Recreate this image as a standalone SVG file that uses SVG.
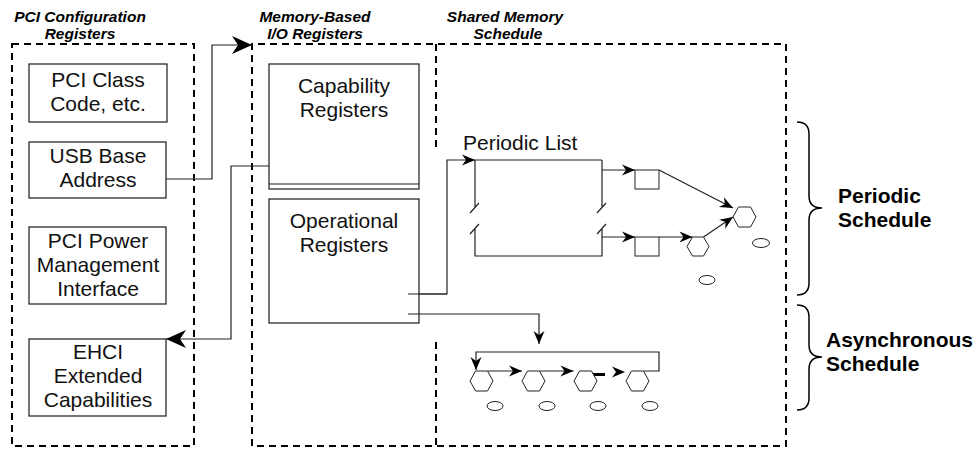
<svg xmlns="http://www.w3.org/2000/svg" width="976" height="449" viewBox="0 0 976 449">
<style>
.dash{fill:none;stroke:#000;stroke-width:2;stroke-dasharray:7 5}
.box{fill:#fff;stroke:#1a1a1a;stroke-width:1.2}
.ln{fill:none;stroke:#222;stroke-width:1.2}
.sh{fill:#fff;stroke:#222;stroke-width:1}
.t{font-family:"Liberation Sans",Arial,sans-serif;font-size:21px;fill:#111;text-anchor:middle}
.ti{font-family:"Liberation Sans",Arial,sans-serif;font-size:15.5px;font-weight:bold;font-style:italic;fill:#000;text-anchor:middle}
.tb{font-family:"Liberation Sans",Arial,sans-serif;font-size:21px;font-weight:bold;fill:#000}
.br{fill:none;stroke:#000;stroke-width:1.5}
.ah{fill:#000}
</style>
<defs>
<marker id="big" viewBox="-21 -10 22 20" markerWidth="22" markerHeight="20" refX="0" refY="0" markerUnits="userSpaceOnUse" orient="auto">
<path d="M0,0 L-20,-9 L-14,0 L-20,9 Z" fill="#000"/>
</marker>
<marker id="sm" viewBox="-14 -7 15 14" markerWidth="15" markerHeight="14" refX="0" refY="0" markerUnits="userSpaceOnUse" orient="auto">
<path d="M0,0 L-13,-5.5 L-9,0 L-13,5.5 Z" fill="#000"/>
</marker>
</defs>

<g id="regions">
<rect class="dash" x="12" y="44" width="182" height="402"/>
<path class="dash" d="M252,446 L252,44 L786,44 L786,446 L252,446"/>
<path class="dash" d="M436,44 L436,147"/>
<path class="dash" d="M436,342 L436,446"/>
<text class="ti" x="80" y="22">PCI Configuration</text>
<text class="ti" x="80" y="39">Registers</text>
<text class="ti" x="315" y="22">Memory-Based</text>
<text class="ti" x="315" y="39">I/O Registers</text>
<text class="ti" x="505" y="22">Shared Memory</text>
<text class="ti" x="508" y="39">Schedule</text>
</g>

<g id="connectors">
<path class="ln" d="M166,179 L212,179 L212,45 L252,45" marker-end="url(#big)"/>
<path class="ln" d="M269,166 L231,166 L231,339 L166,339" marker-end="url(#big)"/>
<path class="ln" d="M408,294 L447,294 L447,160 L475,160" marker-end="url(#sm)"/>
<path class="ln" d="M408,314 L539,314 L539,344" marker-end="url(#sm)"/>
<path class="ln" d="M602,170 L635,170" marker-end="url(#sm)"/>
<path class="ln" d="M602,237 L635,237" marker-end="url(#sm)"/>
<path class="ln" d="M659,170 L733,208" marker-end="url(#sm)"/>
<path class="ln" d="M659,237 L692.5,237" marker-end="url(#sm)"/>
<path class="ln" d="M703.5,237 L733,217" marker-end="url(#sm)"/>
<path class="ln" d="M487.5,371 L522,371" marker-end="url(#sm)"/>
<path class="ln" d="M539.5,371 L573.5,371" marker-end="url(#sm)"/>
<path d="M591,374.5 L605,374.5" stroke="#000" stroke-width="3"/>
<path class="ah" d="M625,372 L612,366.5 L616,372 L612,377.5 Z"/>
<path class="ln" d="M643.5,371 L659,371 L659,352 L476,352 L476,370" marker-end="url(#sm)"/>
</g>

<g id="pci-class">
<rect class="box" x="29" y="64" width="138" height="58"/>
<text class="t" x="98" y="87">PCI Class</text>
<text class="t" x="98" y="111">Code, etc.</text>
</g>
<g id="usb-base">
<rect class="box" x="29" y="142" width="137" height="56"/>
<text class="t" x="98" y="163">USB Base</text>
<text class="t" x="98" y="187">Address</text>
</g>
<g id="pci-power">
<rect class="box" x="29" y="227" width="137" height="77"/>
<text class="t" x="98" y="248">PCI Power</text>
<text class="t" x="98" y="272">Management</text>
<text class="t" x="98" y="296">Interface</text>
</g>
<g id="ehci">
<rect class="box" x="29" y="339" width="137" height="77"/>
<text class="t" x="98" y="359">EHCI</text>
<text class="t" x="98" y="383">Extended</text>
<text class="t" x="98" y="407">Capabilities</text>
</g>

<g id="capability">
<rect class="box" x="269" y="64" width="150" height="125"/>
<path class="ln" d="M269,184 L419,184"/>
<text class="t" x="344" y="93">Capability</text>
<text class="t" x="344" y="117">Registers</text>
</g>
<g id="operational">
<rect class="box" x="269" y="199" width="150" height="124" fill="none"/>
<text class="t" x="344" y="228">Operational</text>
<text class="t" x="344" y="252">Registers</text>
</g>
<path class="ln" d="M408,294 L447,294 M408,314 L419,314"/>

<g id="periodic-list">
<text class="t" x="463" y="150" text-anchor="start" style="text-anchor:start">Periodic List</text>
<path class="ln" d="M475,160 L602,160 M475,160 L475,207.4 M470,213 L479,203 M470,234 L479,224 M475,228.4 L475,256 L602,256 L602,228.4 M597,234 L606,224 M597,213 L606,203 M602,207.4 L602,160"/>
</g>

<g id="periodic-nodes">
<rect class="sh" x="635" y="170" width="24" height="19"/>
<rect class="sh" x="635" y="237" width="24" height="19"/>
<polygon class="sh" points="692.5,237 703.5,237 709,246.5 703.5,256 692.5,256 687,246.5"/>
<polygon class="sh" points="738.5,207 750.5,207 756,217 750.5,227 738.5,227 733,217"/>
<ellipse class="sh" cx="761" cy="243" rx="8.5" ry="4.5"/>
<ellipse class="sh" cx="707" cy="280" rx="8" ry="4.5"/>
</g>

<g id="async-nodes">
<polygon class="sh" points="475.5,371 487.5,371 493,381 487.5,391 475.5,391 470,381"/>
<polygon class="sh" points="527.5,371 539.5,371 545,381 539.5,391 527.5,391 522,381"/>
<polygon class="sh" points="579.5,371 591.5,371 597,381 591.5,391 579.5,391 574,381"/>
<polygon class="sh" points="631.5,371 643.5,371 649,381 643.5,391 631.5,391 626,381"/>
<ellipse class="sh" cx="495" cy="406" rx="8" ry="4.5"/>
<ellipse class="sh" cx="547" cy="406" rx="8" ry="4.5"/>
<ellipse class="sh" cx="598" cy="406" rx="8" ry="4.5"/>
<ellipse class="sh" cx="650" cy="406" rx="8" ry="4.5"/>
</g>

<g id="periodic-schedule">
<path class="br" d="M797,122 Q809,122 809,134 L809,196 Q809,208 822,208 Q809,208 809,220 L809,283 Q809,295 797,295"/>
<text class="tb" x="838" y="203">Periodic</text>
<text class="tb" x="838" y="227">Schedule</text>
</g>
<g id="async-schedule">
<path class="br" d="M797,305 Q809,305 809,317 L809,345 Q809,357 822,357 Q809,357 809,369 L809,398 Q809,410 797,410"/>
<text class="tb" x="826" y="347">Asynchronous</text>
<text class="tb" x="826" y="371">Schedule</text>
</g>
</svg>
